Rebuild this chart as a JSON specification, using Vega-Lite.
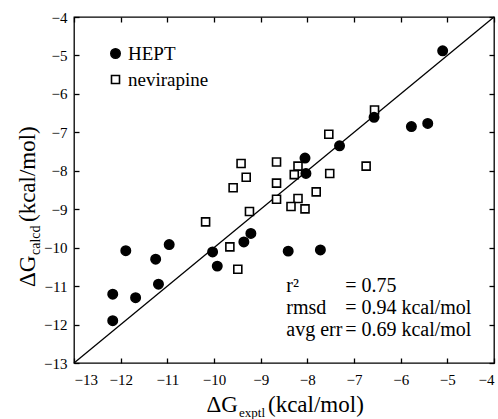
{
  "$schema": "https://vega.github.io/schema/vega-lite/v6.json",
  "width": 420,
  "height": 346,
  "autosize": {"type": "none"},
  "padding": {"left": 74, "top": 17, "right": 4, "bottom": 56},
  "background": "white",
  "data": {"values": [{}]},
  "config": {
    "view": {"stroke": "black", "strokeWidth": 1.3},
    "font": "Liberation Serif",
    "axis": {
      "grid": false,
      "domain": false,
      "tickColor": "black",
      "tickSize": -5,
      "tickWidth": 1.3,
      "labelFont": "Liberation Serif",
      "labelFontSize": 15,
      "labelColor": "black",
      "title": null
    },
    "text": {"font": "Liberation Serif", "color": "black"}
  },
  "datasets": {
    "pts": [
      {"series": "nevirapine", "exptl": -6.56, "calcd": -6.42},
      {"series": "nevirapine", "exptl": -7.54, "calcd": -7.05},
      {"series": "nevirapine", "exptl": -6.74, "calcd": -7.88},
      {"series": "nevirapine", "exptl": -8.20, "calcd": -7.88},
      {"series": "nevirapine", "exptl": -8.28, "calcd": -8.10},
      {"series": "nevirapine", "exptl": -7.52, "calcd": -8.07},
      {"series": "nevirapine", "exptl": -8.66, "calcd": -7.77},
      {"series": "nevirapine", "exptl": -8.66, "calcd": -8.32},
      {"series": "nevirapine", "exptl": -9.42, "calcd": -7.81},
      {"series": "nevirapine", "exptl": -9.31, "calcd": -8.17},
      {"series": "nevirapine", "exptl": -9.59, "calcd": -8.44},
      {"series": "nevirapine", "exptl": -7.81, "calcd": -8.55},
      {"series": "nevirapine", "exptl": -8.66, "calcd": -8.74},
      {"series": "nevirapine", "exptl": -8.20, "calcd": -8.72},
      {"series": "nevirapine", "exptl": -8.35, "calcd": -8.93},
      {"series": "nevirapine", "exptl": -8.05, "calcd": -8.99},
      {"series": "nevirapine", "exptl": -9.24, "calcd": -9.06},
      {"series": "nevirapine", "exptl": -10.18, "calcd": -9.33},
      {"series": "nevirapine", "exptl": -9.66, "calcd": -9.98},
      {"series": "nevirapine", "exptl": -9.49, "calcd": -10.56},
      {"series": "HEPT", "exptl": -5.10, "calcd": -4.88},
      {"series": "HEPT", "exptl": -6.57, "calcd": -6.61},
      {"series": "HEPT", "exptl": -5.77, "calcd": -6.85},
      {"series": "HEPT", "exptl": -5.42, "calcd": -6.77},
      {"series": "HEPT", "exptl": -7.31, "calcd": -7.35},
      {"series": "HEPT", "exptl": -8.05, "calcd": -7.67},
      {"series": "HEPT", "exptl": -8.03, "calcd": -8.07},
      {"series": "HEPT", "exptl": -9.21, "calcd": -9.63},
      {"series": "HEPT", "exptl": -9.36, "calcd": -9.85},
      {"series": "HEPT", "exptl": -10.03, "calcd": -10.11},
      {"series": "HEPT", "exptl": -9.93, "calcd": -10.48},
      {"series": "HEPT", "exptl": -8.41, "calcd": -10.09},
      {"series": "HEPT", "exptl": -7.72, "calcd": -10.06},
      {"series": "HEPT", "exptl": -10.96, "calcd": -9.92},
      {"series": "HEPT", "exptl": -11.25, "calcd": -10.30},
      {"series": "HEPT", "exptl": -11.89, "calcd": -10.08},
      {"series": "HEPT", "exptl": -11.19, "calcd": -10.95},
      {"series": "HEPT", "exptl": -11.68, "calcd": -11.30},
      {"series": "HEPT", "exptl": -12.17, "calcd": -11.21},
      {"series": "HEPT", "exptl": -12.17, "calcd": -11.90}
    ]
  },
  "resolve": {"axis": {"x": "independent", "y": "independent"}},
  "layer": [
    {
      "mark": {"type": "rule", "color": "black", "strokeWidth": 1.3},
      "encoding": {
        "x": {"datum": -13, "type": "quantitative", "scale": {"domain": [-13, -4], "nice": false, "zero": false}, "axis": {"orient": "top", "labels": false, "values": [-13, -12, -11, -10, -9, -8, -7, -6, -5, -4]}},
        "y": {"datum": -13, "type": "quantitative", "scale": {"domain": [-13, -4], "nice": false, "zero": false}, "axis": {"orient": "right", "labels": false, "values": [-13, -12, -11, -10, -9, -8, -7, -6, -5, -4]}},
        "x2": {"datum": -4},
        "y2": {"datum": -4}
      }
    },
    {
      "data": {"name": "pts"},
      "mark": {"type": "point", "filled": true, "stroke": "black", "strokeWidth": 1.6, "opacity": 1},
      "encoding": {
        "x": {"field": "exptl", "type": "quantitative", "scale": {"domain": [-13, -4], "nice": false, "zero": false}, "axis": {"orient": "bottom", "values": [-13, -12, -11, -10, -9, -8, -7, -6, -5, -4], "labelPadding": 14, "labelFont": "Liberation Serif", "labelFontSize": 15, "labelColor": "black"}},
        "y": {"field": "calcd", "type": "quantitative", "scale": {"domain": [-13, -4], "nice": false, "zero": false}, "axis": {"orient": "left", "values": [-13, -12, -11, -10, -9, -8, -7, -6, -5, -4], "labelPadding": 12, "labelFont": "Liberation Serif", "labelFontSize": 15, "labelColor": "black"}},
        "shape": {"field": "series", "type": "nominal", "scale": {"domain": ["HEPT", "nevirapine"], "range": ["circle", "square"]}, "legend": {"orient": "none", "legendX": 32, "legendY": 27, "title": null, "labelFont": "Liberation Serif", "labelFontSize": 19, "labelColor": "black", "symbolStrokeColor": "black", "symbolStrokeWidth": 1.6, "labelOffset": 3, "rowPadding": 6, "padding": 0}},
        "fill": {"field": "series", "type": "nominal", "scale": {"domain": ["HEPT", "nevirapine"], "range": ["black", "white"]}, "legend": {"orient": "none", "legendX": 32, "legendY": 27, "title": null}},
        "size": {"field": "series", "type": "nominal", "scale": {"domain": ["HEPT", "nevirapine"], "range": [88, 64]}, "legend": {"orient": "none", "legendX": 32, "legendY": 27, "title": null}},
        "order": {"field": "series", "sort": "descending"}
      }
    },
    {"mark": {"type": "text", "text": "r²", "align": "left", "baseline": "alphabetic", "fontSize": 20}, "encoding": {"x": {"datum": -8.45, "axis": null}, "y": {"datum": -11.154, "axis": null}}},
    {"mark": {"type": "text", "text": "rmsd", "align": "left", "baseline": "alphabetic", "fontSize": 20}, "encoding": {"x": {"datum": -8.45, "axis": null}, "y": {"datum": -11.727, "axis": null}}},
    {"mark": {"type": "text", "text": "avg err", "align": "left", "baseline": "alphabetic", "fontSize": 20}, "encoding": {"x": {"datum": -8.45, "axis": null}, "y": {"datum": -12.299, "axis": null}}},
    {"mark": {"type": "text", "text": "= 0.75", "align": "left", "baseline": "alphabetic", "fontSize": 20}, "encoding": {"x": {"datum": -7.19, "axis": null}, "y": {"datum": -11.154, "axis": null}}},
    {"mark": {"type": "text", "text": "= 0.94 kcal/mol", "align": "left", "baseline": "alphabetic", "fontSize": 20}, "encoding": {"x": {"datum": -7.19, "axis": null}, "y": {"datum": -11.727, "axis": null}}},
    {"mark": {"type": "text", "text": "= 0.69 kcal/mol", "align": "left", "baseline": "alphabetic", "fontSize": 20}, "encoding": {"x": {"datum": -7.19, "axis": null}, "y": {"datum": -12.299, "axis": null}}},
    {"mark": {"type": "text", "text": "ΔG", "align": "right", "baseline": "alphabetic", "fontSize": 23}, "encoding": {"x": {"datum": -9.486, "axis": null}, "y": {"datum": -14.28, "axis": null}}},
    {"mark": {"type": "text", "text": "exptl", "align": "left", "baseline": "alphabetic", "fontSize": 13}, "encoding": {"x": {"datum": -9.464, "axis": null}, "y": {"datum": -14.41, "axis": null}}},
    {"mark": {"type": "text", "text": "(kcal/mol)", "align": "left", "baseline": "alphabetic", "fontSize": 23}, "encoding": {"x": {"datum": -8.843, "axis": null}, "y": {"datum": -14.28, "axis": null}}},
    {"mark": {"type": "text", "text": "ΔG", "align": "left", "baseline": "alphabetic", "fontSize": 23, "angle": 270}, "encoding": {"x": {"datum": -13.836, "axis": null}, "y": {"datum": -11.023, "axis": null}}},
    {"mark": {"type": "text", "text": "calcd", "align": "left", "baseline": "alphabetic", "fontSize": 14, "angle": 270}, "encoding": {"x": {"datum": -13.73, "axis": null}, "y": {"datum": -10.19, "axis": null}}},
    {"mark": {"type": "text", "text": "(kcal/mol)", "align": "left", "baseline": "alphabetic", "fontSize": 23, "angle": 270}, "encoding": {"x": {"datum": -13.836, "axis": null}, "y": {"datum": -9.333, "axis": null}}}
  ]
}
